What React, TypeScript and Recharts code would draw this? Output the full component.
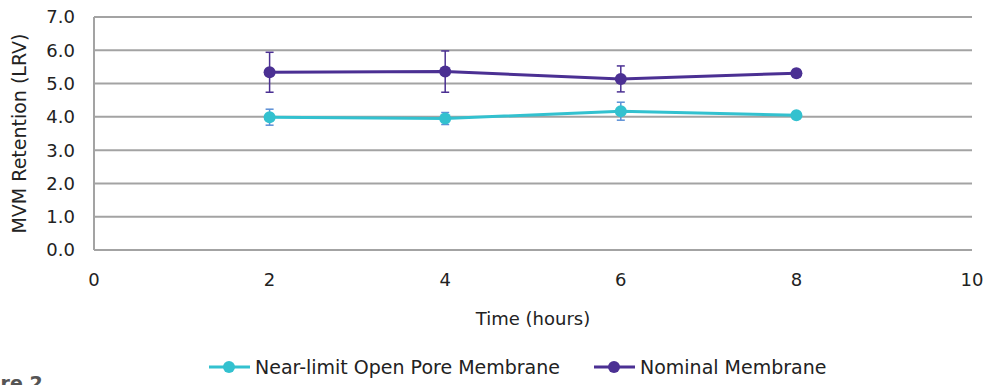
import React from "react"
import { LineChart, Line, XAxis, YAxis, CartesianGrid, Legend, ErrorBar } from "recharts"

const hours = [2, 4, 6, 8]
const nearLimit = [3.99, 3.95, 4.17, 4.05]
const nearLimitErr = [0.24, 0.18, 0.27, 0.08]
const nominal = [5.34, 5.36, 5.14, 5.31]
const nominalErr = [0.6, 0.62, 0.39, 0.11]
const yTicks = [0, 1, 2, 3, 4, 5, 6, 7]
const xTicks = [0, 2, 4, 6, 8, 10]

const CYAN = "#33C1CF"
const PURPLE = "#4B3093"
const GRID = "#a3a3a3"
const FONT = "'DejaVu Sans', Verdana, sans-serif"

const data = hours.map((h, i) => ({
  hours: h,
  nearLimit: nearLimit[i],
  nearLimitErr: nearLimitErr[i],
  nominal: nominal[i],
  nominalErr: nominalErr[i],
}))

const legendItems = [
  { name: "Near-limit Open Pore Membrane", color: CYAN },
  { name: "Nominal Membrane", color: PURPLE },
]

function LegendContent() {
  return (
    <div style={{ display: "flex", paddingLeft: 208, paddingTop: 26, fontFamily: FONT, fontSize: 19, color: "#222" }}>
      {legendItems.map((it) => (
        <div key={it.name} style={{ display: "flex", alignItems: "center", marginRight: 33 }}>
          <svg width={43} height={14} style={{ marginRight: 4 }}>
            <line x1={1} y1={7} x2={42} y2={7} stroke={it.color} strokeWidth={3} />
            <circle cx={21} cy={7} r={6} fill={it.color} />
          </svg>
          <span>{it.name}</span>
        </div>
      ))}
    </div>
  )
}

export default function App() {
  return (
    <div style={{ position: "fixed", left: 0, top: 0, width: 987, height: 385, overflow: "hidden", background: "#fff" }}>
      <LineChart width={987} height={385} data={data} margin={{ top: 17, right: 15, left: 0, bottom: 0 }}>
        <CartesianGrid vertical={false} stroke={GRID} strokeWidth={2} />
        <XAxis
          dataKey="hours"
          type="number"
          domain={[0, 10]}
          ticks={xTicks}
          height={80}
          tickLine={false}
          tickSize={0}
          tickMargin={23}
          axisLine={{ stroke: GRID, strokeWidth: 2 }}
          tick={{ fill: "#222", fontSize: 18, fontFamily: FONT }}
          label={{
            position: "insideBottom",
            content: (p: any) => {
              const vb = p.viewBox
              return (
                <text x={vb.x + vb.width / 2} y={vb.y + 75} textAnchor="middle" fill="#222" fontSize={18} fontFamily={FONT}>
                  Time (hours)
                </text>
              )
            },
          }}
        />
        <YAxis
          type="number"
          domain={[0, 7]}
          ticks={yTicks}
          width={94}
          tickLine={false}
          tickSize={0}
          tickMargin={19}
          axisLine={{ stroke: GRID, strokeWidth: 2 }}
          tickFormatter={(v: number) => v.toFixed(1)}
          tick={{ fill: "#222", fontSize: 18, fontFamily: FONT }}
          label={{
            position: "insideLeft",
            content: (p: any) => {
              const vb = p.viewBox
              const cx = vb.x + 26
              const cy = vb.y + vb.height / 2
              return (
                <text x={cx} y={cy} transform={`rotate(-90, ${cx}, ${cy})`} textAnchor="middle" fill="#222" fontSize={19} fontFamily={FONT}>
                  MVM Retention (LRV)
                </text>
              )
            },
          }}
        />
        <Legend verticalAlign="bottom" height={55} content={() => <LegendContent />} />
        <Line
          dataKey="nominal"
          name="Nominal Membrane"
          stroke={PURPLE}
          strokeWidth={3}
          dot={{ r: 6, fill: PURPLE, stroke: PURPLE, strokeWidth: 0 }}
          isAnimationActive={false}
        >
          <ErrorBar dataKey="nominalErr" direction="y" width={4} stroke={PURPLE} strokeWidth={1.5} isAnimationActive={false} />
        </Line>
        <Line
          dataKey="nearLimit"
          name="Near-limit Open Pore Membrane"
          stroke={CYAN}
          strokeWidth={3}
          dot={{ r: 6, fill: CYAN, stroke: CYAN, strokeWidth: 0 }}
          isAnimationActive={false}
        >
          <ErrorBar dataKey="nearLimitErr" direction="y" width={4} stroke="#5B8FD6" strokeWidth={1.5} isAnimationActive={false} />
        </Line>
      </LineChart>
      <div style={{ position: "absolute", left: -46, top: 372, fontFamily: FONT, fontWeight: "bold", fontSize: 19, color: "#555" }}>
        Figure 2
      </div>
    </div>
  )
}
